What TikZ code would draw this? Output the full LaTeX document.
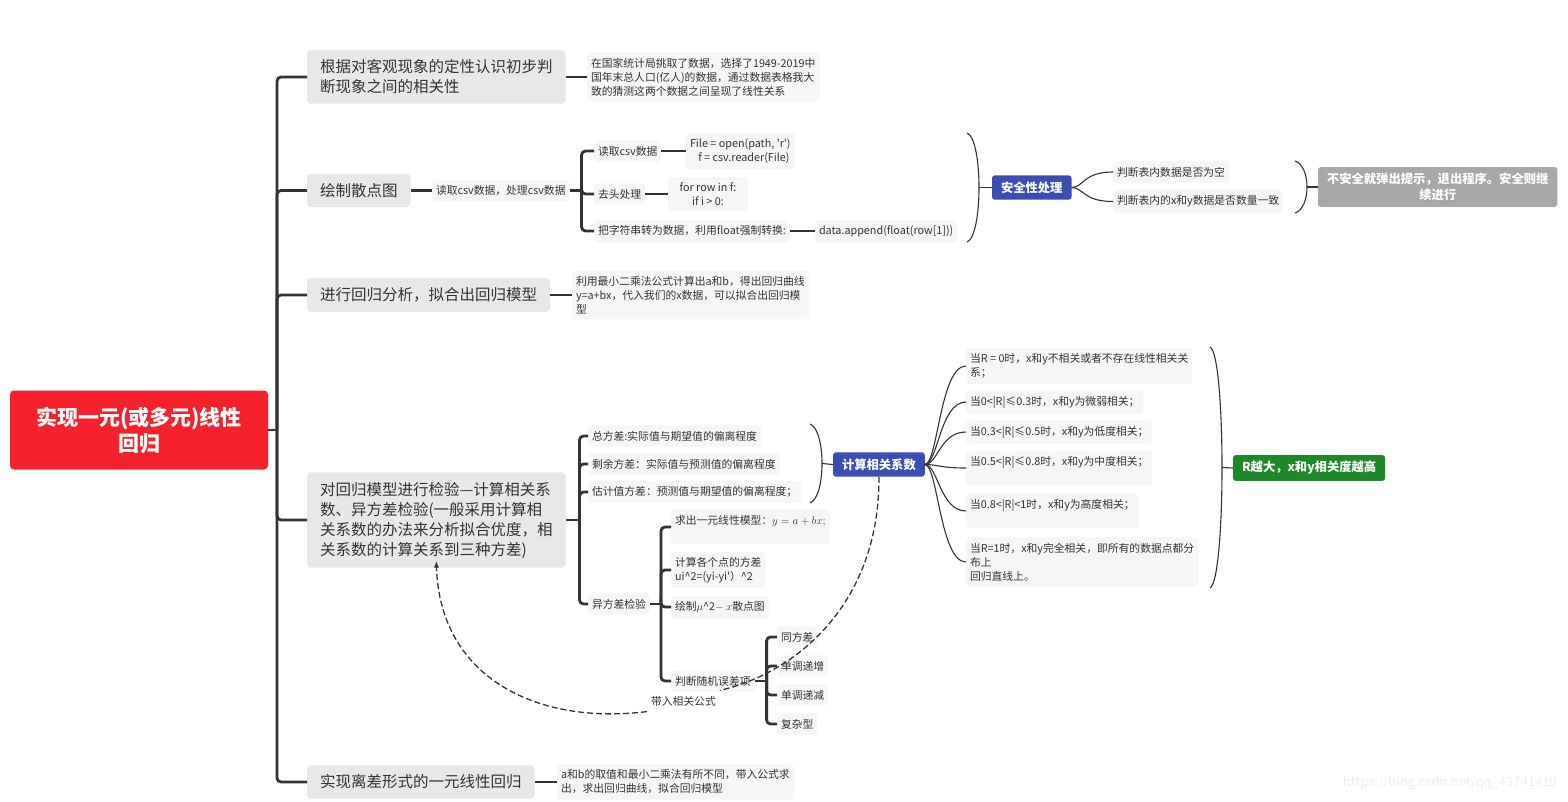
\documentclass[tikz,border=0pt]{standalone}
\usepackage{fontspec}
\usepackage{tikz}
\usetikzlibrary{positioning,arrows.meta,calc}
\newfontfamily\cjk{Noto Sans CJK SC}
\definecolor{rootred}{HTML}{F5222D}
\definecolor{hubblue}{HTML}{3C4DB4}
\definecolor{okgreen}{HTML}{1B8A27}
\definecolor{warngray}{HTML}{A8A8A8}
\definecolor{branchgray}{HTML}{E8E8E8}
\definecolor{leafgray}{HTML}{F7F6F7}
\definecolor{inkgray}{HTML}{333333}

\begin{document}
\begin{tikzpicture}[
            x=1pt, y=-1pt,
            outer sep=0pt,
            % 中心主题
            root/.style={
                fill=rootred,
                rounded corners=4pt,
                text=white,
                font=\cjk\bfseries\fontsize{21}{26}\selectfont,
                align=center,
                minimum width=258,
                minimum height=79,
                anchor=west
            },
            % 一级分支
            branch/.style={
                fill=branchgray,
                rounded corners=4pt,
                text=inkgray,
                font=\cjk\fontsize{15.5}{20}\selectfont,
                align=left,
                inner xsep=13, inner ysep=9.5,
                anchor=west
            },
            % 小字说明
            leaf/.style={
                fill=leafgray,
                rounded corners=3pt,
                text=inkgray,
                font=\cjk\fontsize{10.8}{14}\selectfont,
                align=left,
                inner xsep=4, inner ysep=5.6,
                anchor=west
            },
            % 彩色汇总框
            hub/.style={
                fill=hubblue,
                rounded corners=3pt,
                text=white,
                font=\cjk\bfseries\fontsize{12.3}{16}\selectfont,
                align=center,
                inner xsep=9, inner ysep=6.3,
                anchor=west
            },
            % 粗连线和细连线
            link/.style={draw=inkgray, line width=2.8pt, rounded corners=4pt},
            thinlink/.style={draw=inkgray, line width=1.1pt},
            backlink/.style={draw=inkgray, line width=1.3pt, dash pattern=on 6pt off 3pt}
        ]
            \useasboundingbox (0,0) rectangle (1568,802);

            % 中心主题和一级分支
            \node[root] (root) at (10,430) {实现一元(或多元)线性\\回归};
            \node[branch] (b1) at (307,77) {根据对客观现象的定性认识初步判\\断现象之间的相关性};
            \node[branch] (b2) at (307,190.5) {绘制散点图};
            \node[branch] (b3) at (307,295) {进行回归分析，拟合出回归模型};
            \node[branch] (b4) at (307,520) {对回归模型进行检验—计算相关系\\数、异方差检验(一般采用计算相\\关系数的办法来分析拟合优度，相\\关系数的计算关系到三种方差)};
            \node[branch] (b5) at (307,782) {实现离差形式的一元线性回归};

            \coordinate (j1) at ($(root.east)+(9,0)$);
            \draw[link] (root.east) -- (j1);
            \foreach \b in {b1,b2,b3,b4,b5}
                \draw[link] (j1) |- (\b.west);

            % 分支一
            \node[leaf] (obs) at (587,77) {在国家统计局挑取了数据，选择了1949-2019中\\国年末总人口(亿人)的数据，通过数据表格我大\\致的猜测这两个数据之间呈现了线性关系};
            \draw[link] (b1.east) -- (obs.west);

            % 分支二：读取和处理 csv
            \node[leaf] (csv) at (432,190.5) {读取csv数据，处理csv数据};
            \draw[link] (b2.east) -- (csv.west);
            \node[leaf] (rd) at (594,151) {读取csv数据};
            \node[leaf] (hd) at (594,194) {去头处理};
            \node[leaf] (cv) at (594,231) {把字符串转为数据，利用float强制转换:};
            \coordinate (j2) at ($(csv.east)+(12,0)$);
            \draw[link] (csv.east) -- (j2);
            \foreach \c in {rd,hd,cv}
                \draw[link] (j2) |- (\c.west);

            \node[leaf, align=center] (fo) at (686,151) {File = open(path, 'r')\\\ \ \ f = csv.reader(File)};
            \node[leaf, align=center, minimum width=80] (fr) at (668,194) {for row in f:\\if i > 0:};
            \node[leaf] (ap) at (815,231) {data.append(float(row[1]))};
            \draw[link] (rd.east) -- (fo.west);
            \draw[link] (hd.east) -- (fr.west);
            \draw[link] (cv.east) -- (ap.west);

            % 安全性处理
            \draw[thinlink] (967,133) .. controls +(16,6) and +(16,-6) .. (967,242);
            \coordinate (p1) at (979,187.5);
            \node[hub] (safe) at (992,187.5) {安全性处理};
            \draw[thinlink] (p1) -- (safe.west);
            \node[leaf] (emp) at (1113,172) {判断表内数据是否为空};
            \node[leaf] (cnt) at (1113,201.5) {判断表内的x和y数据是否数量一致};
            \foreach \e in {emp,cnt}
                \draw[thinlink] (safe.east) .. controls +(12,0) and +(-30,0) .. (\e.west);

            \draw[thinlink] (1295,161) .. controls +(16,5) and +(16,-5) .. (1295,213);
            \coordinate (p2) at (1307,187);
            \node[hub, fill=warngray, inner ysep=6] (warn) at (1318,187) {不安全就弹出提示，退出程序。安全则继\\续进行};
            \draw[thinlink] (p2) -- (warn.west);

            % 分支三
            \node[leaf] (lsq) at (572,295) {利用最小二乘法公式计算出a和b，得出回归曲线\\y=a+bx，代入我们的x数据，可以拟合出回归模\\型};
            \draw[link] (b3.east) -- (lsq.west);

            % 分支四：三种方差
            \node[leaf] (tv) at (588,436) {总方差:实际值与期望值的偏离程度};
            \node[leaf] (rv) at (588,464) {剩余方差：实际值与预测值的偏离程度};
            \node[leaf] (ev) at (588,492) {估计值方差：预测值与期望值的偏离程度；};
            \node[leaf] (hv) at (588,604) {异方差检验};
            \coordinate (j4) at ($(b4.east)+(14,0)$);
            \draw[link] (b4.east) -- (j4);
            \foreach \v in {tv,rv,ev,hv}
                \draw[link] (j4) |- (\v.west);

            % 计算相关系数
            \draw[thinlink] (810,424) .. controls +(16,6) and +(16,-6) .. (810,503);
            \coordinate (p3) at (822,463.5);
            \node[hub] (corr) at (833,464.5) {计算相关系数};
            \draw[thinlink] (p3) -- (corr.west);

            \node[leaf] (r0) at (966,366) {当R = 0时，x和y不相关或者不存在线性相关关\\系；};
            \node[leaf] (r1) at (966,402) {当0<|R|≤0.3时，x和y为微弱相关；};
            \node[leaf] (r2) at (966,432) {当0.3<|R|≤0.5时，x和y为低度相关；};
            \node[leaf] (r3) at (966,468) {当0.5<|R|≤0.8时，x和y为中度相关；\\\mbox{}};
            \node[leaf] (r4) at (966,511) {当0.8<|R|<1时，x和y为高度相关；\\\mbox{}};
            \node[leaf] (r5) at (966,562) {当R=1时，x和y完全相关，即所有的数据点都分\\布上\\回归直线上。};
            \foreach \r in {r0,r1,r2,r3,r4,r5}
                \draw[thinlink] (corr.east) .. controls +(13,0) and +(-26,0) .. (\r.west);

            \draw[thinlink] (1210,347) .. controls +(16,8) and +(16,-8) .. (1210,588);
            \coordinate (p4) at (1222,467.5);
            \node[hub, fill=okgreen] (high) at (1233,468) {R越大，x和y相关度越高};
            \draw[thinlink] (p4) -- (high.west);

            % 异方差检验
            \node[leaf] (m1) at (671,527) {求出一元线性模型：$y = a + bx;$\\\mbox{}};
            \node[leaf] (m2) at (671,570) {计算各个点的方差\\ui\textasciicircum 2=(yi-yi'）\textasciicircum 2};
            \node[leaf] (m3) at (671,607) {绘制$\mu$\textasciicircum 2$-$ $x$散点图};
            \node[leaf] (m4) at (671,681) {判断随机误差项};
            \coordinate (j5) at ($(hv.east)+(11,0)$);
            \draw[link] (hv.east) -- (j5);
            \foreach \m in {m1,m2,m3,m4}
                \draw[link] (j5) |- (\m.west);

            \node[leaf] (s1) at (777,637) {同方差};
            \node[leaf] (s2) at (777,666) {单调递增};
            \node[leaf] (s3) at (777,695) {单调递减};
            \node[leaf] (s4) at (777,724) {复杂型};
            \coordinate (j6) at ($(m4.east)+(12,0)$);
            \draw[link] (m4.east) -- (j6);
            \foreach \s in {s1,s2,s3,s4}
                \draw[link] (j6) |- (\s.west);

            % 虚线回指
            \node[leaf, fill=none] (lbl) at (647,701) {带入相关公式};
            \draw[backlink] (corr.south) .. controls (880,600) and (800,672) .. (lbl.north east);
            \draw[backlink, -{Latex[length=7pt,width=5pt]}] (lbl.south west) .. controls (540,725) and (440,680) .. ([yshift=7]b4.south);

            % 分支五
            \node[leaf] (dev) at (557,782) {a和b的取值和最小二乘法有所不同，带入公式求\\出，求出回归曲线，拟合回归模型};
            \draw[link] (b5.east) -- (dev.west);

            \node[font=\cjk\fontsize{13}{15}\selectfont, text=gray!15, anchor=east] (mark) at (1560,783) {https://blog.csdn.net/qq\_43741419};

        \end{tikzpicture}
\end{document}
